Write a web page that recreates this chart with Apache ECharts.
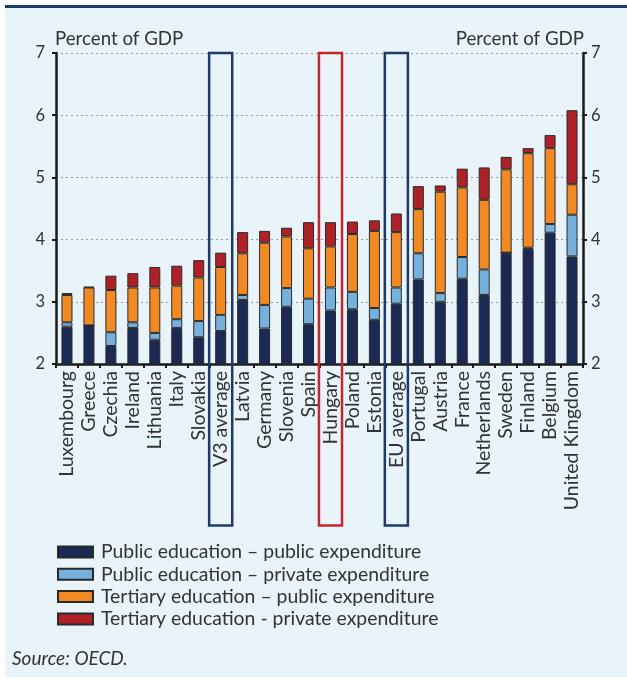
<!DOCTYPE html>
<html><head><meta charset="utf-8">
<script src="https://cdn.jsdelivr.net/npm/echarts@6/dist/echarts.min.js"></script>
<style>html,body{margin:0;padding:0;background:#fff}#c{width:627px;height:679px}</style>
</head><body><div id="c"></div>
<script>
const categories = ["Luxembourg","Greece","Czechia","Ireland","Lithuania","Italy","Slovakia","V3 average","Latvia","Germany","Slovenia","Spain","Hungary","Poland","Estonia","EU average","Portugal","Austria","France","Netherlands","Sweden","Finland","Belgium","United Kingdom"];
const publicPublic   = [2.60,2.62,2.29,2.58,2.39,2.58,2.43,2.53,3.03,2.57,2.92,2.64,2.86,2.88,2.71,2.97,3.36,3.00,3.37,3.11,3.79,3.85,4.11,3.73];
const publicPrivate  = [0.07,0.00,0.22,0.09,0.11,0.14,0.26,0.26,0.08,0.38,0.30,0.41,0.37,0.28,0.19,0.26,0.42,0.14,0.35,0.41,0.00,0.02,0.14,0.67];
const tertiaryPublic = [0.44,0.61,0.68,0.56,0.73,0.54,0.70,0.77,0.67,1.00,0.83,0.81,0.66,0.93,1.24,0.89,0.71,1.63,1.12,1.12,1.34,1.52,1.22,0.49];
const tertiaryPrivate= [0.03,0.01,0.23,0.23,0.33,0.32,0.28,0.23,0.34,0.19,0.14,0.42,0.39,0.20,0.17,0.30,0.37,0.10,0.30,0.52,0.20,0.08,0.21,1.19];
const seriesNames = ["Public education \u2013 public expenditure","Public education \u2013 private expenditure","Tertiary education \u2013 public expenditure","Tertiary education - private expenditure"];
const seriesColors = ["#1b2a54","#76b1dd","#f28a24","#ae2227"];
const yTicks = [2,3,4,5,6,7];
const highlights = [{name:"V3 average", color:"#1f3a68"},{name:"Hungary", color:"#c0282e"},{name:"EU average", color:"#1f3a68"}];

const FONT = "Lato";
const TXT = "#333";
const chart = echarts.init(document.getElementById('c'), null, {renderer:'canvas'});
const datasets = [publicPublic, publicPrivate, tertiaryPublic, tertiaryPrivate];
const yMin = yTicks[0], yMax = yTicks[yTicks.length-1];
function yAxisCfg(pos){
  return {
    type:'value', position:pos, min:yMin, max:yMax, interval:1,
    name:'Percent of GDP', nameLocation:'end', nameGap:5,
    nameTextStyle:{fontFamily:FONT, fontSize:18.7, color:TXT, align: pos==='left'?'left':'right', verticalAlign:'bottom', padding: pos==='left'?[0,0,0,-1]:[0,-1,0,0]},
    axisLine:{show:true, lineStyle:{color:'#1a1a1a', width:2.5}},
    axisTick:{show:true, inside:false, length:4, lineStyle:{color:'#1a1a1a', width:2}},
    axisLabel:{fontFamily:FONT, fontSize:16.5, color:TXT, margin: pos==='left'?11:8},
    splitLine:{show: pos==='left', lineStyle:{color:'#9a9a9a', type:[2,3], width:1.2}}
  };
}
const option = {
  backgroundColor:'#ffffff',
  animation:false,
  graphic:[
    {type:'rect', z:-10, shape:{x:5,y:8,width:622,height:669}, style:{fill:'#e9f3fa'}},
    {type:'rect', z:-9, shape:{x:5,y:5,width:622,height:3}, style:{fill:'#1f3a68'}},
    {type:'text', left:12, top:649, style:{text:'Source: OECD.', font:'italic 19px Lato', fill:TXT}}
  ],
  grid:{left:56, right:44, top:53, bottom:315, containLabel:false},
  legend:{
    orient:'vertical', left:57, top:542, padding:0, itemWidth:35, itemHeight:11, itemGap:2.3,
    icon:'rect', selectedMode:false,
    textStyle:{fontFamily:FONT, fontSize:19.4, color:TXT, lineHeight:20, padding:[0,0,0,3]},
    data: seriesNames
  },
  xAxis:{
    type:'category', data:categories,
    axisLine:{lineStyle:{color:'#1a1a1a', width:2.5}},
    axisTick:{show:true, alignWithLabel:false, length:4, lineStyle:{color:'#1a1a1a', width:2}},
    axisLabel:{rotate:90, interval:0, fontFamily:FONT, fontSize:19.5, color:TXT, margin:7}
  },
  yAxis:[yAxisCfg('left'), yAxisCfg('right')],
  series: datasets.map((d,i)=>({
    name:seriesNames[i], type:'bar', stack:'total', data:d, barWidth:11,
    itemStyle:{color:seriesColors[i], borderColor:'#2a2a2a', borderWidth:1},
    emphasis:{disabled:true}
  }))
};
chart.setOption(option);

// highlight boxes positioned via the category axis scale
const p0 = chart.convertToPixel({xAxisIndex:0}, 0);
const p1 = chart.convertToPixel({xAxisIndex:0}, 1);
const band = p1 - p0;
const yTop = chart.convertToPixel({yAxisIndex:0}, yMax);
const boxW = band*1.05;
const extra = highlights.map(h=>{
  const cx = chart.convertToPixel({xAxisIndex:0}, categories.indexOf(h.name));
  return {type:'rect', z:100, shape:{x:cx-boxW/2, y:yTop, width:boxW, height:525.5-yTop},
    style:{fill:'none', stroke:h.color, lineWidth:2.5}};
});
chart.setOption({graphic: option.graphic.concat(extra)});
</script></body></html>
